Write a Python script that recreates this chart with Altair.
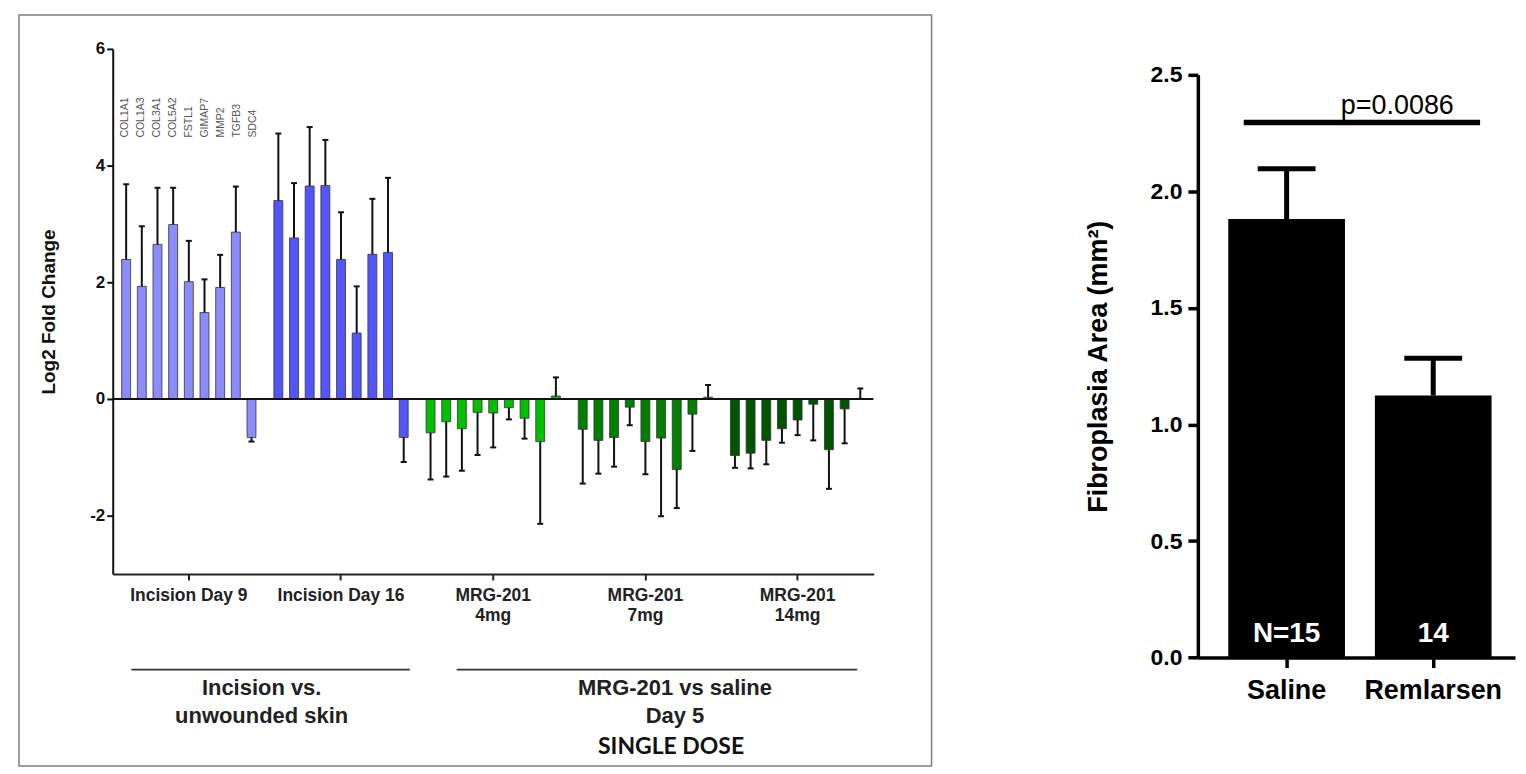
import altair as alt
import pandas as pd
import numpy as np

FONT = "Liberation Sans, Arial, sans-serif"

genes = ["COL1A1", "COL1A3", "COL3A1", "COL5A2", "FSTL1", "GIMAP7", "MMP2", "TGFB3", "SDC4"]
groups = ["Incision Day 9", "Incision Day 16", "MRG-201 4mg", "MRG-201 7mg", "MRG-201 14mg"]
group_colors = ["#8c8cff", "#5555ff", "#00c000", "#007f00", "#005500"]

# log2 fold change means and error magnitudes, per group (gene order above)
day9_mean = [2.39, 1.93, 2.65, 2.99, 2.01, 1.48, 1.91, 2.86, -0.66]
day9_err = [1.29, 1.03, 0.97, 0.63, 0.70, 0.57, 0.56, 0.78, 0.07]
day16_mean = [3.40, 2.76, 3.65, 3.66, 2.39, 1.13, 2.48, 2.51, -0.66]
day16_err = [1.15, 0.94, 1.01, 0.78, 0.81, 0.80, 0.95, 1.28, 0.42]
mrg4_mean = [-0.58, -0.39, -0.51, -0.23, -0.24, -0.15, -0.33, -0.73, 0.05]
mrg4_err = [0.80, 0.94, 0.72, 0.73, 0.59, 0.20, 0.35, 1.41, 0.32]
mrg7_mean = [-0.52, -0.71, -0.66, -0.14, -0.73, -0.67, -1.21, -0.26, 0.03]
mrg7_err = [0.93, 0.57, 0.50, 0.31, 0.56, 1.34, 0.66, 0.63, 0.21]
mrg14_mean = [-0.97, -0.93, -0.71, -0.51, -0.36, -0.09, -0.87, -0.17, 0.01]
mrg14_err = [0.21, 0.26, 0.41, 0.24, 0.26, 0.62, 0.67, 0.59, 0.17]

# right panel
treatments = ["Saline", "Remlarsen"]
area_mean = [1.881, 1.124]
area_sem = [0.216, 0.160]
n_labels = ["N=15", "14"]
p_text = "p=0.0086"
sig_y = 2.296

means = [day9_mean, day16_mean, mrg4_mean, mrg7_mean, mrg14_mean]
errs = [day9_err, day16_err, mrg4_err, mrg7_err, mrg14_err]
rows = []
for g, m, e in zip(groups, means, errs):
    for gene, v, s in zip(genes, m, e):
        rows.append({"group": g, "gene": gene, "value": v,
                     "end": v + s if v >= 0 else v - s})
df_left = pd.DataFrame(rows)

df_right = pd.DataFrame({"treatment": treatments, "mean": area_mean,
                         "hi": np.array(area_mean) + np.array(area_sem),
                         "n": n_labels})

# ---------------- left panel ----------------
LW, LH = 915, 753
x_scale_L = alt.Scale(domain=groups, range=[94, 857], paddingInner=0, paddingOuter=0)
y_scale_L = alt.Scale(domain=[-3, 6], range=[560.5, 34], nice=False, zero=False)
off_scale = alt.Scale(domain=genes, paddingInner=0.43, paddingOuter=0.5715)
lab_scale = alt.Scale(domain=genes, paddingInner=0, paddingOuter=0.76)

x_axis_L = alt.Axis(orient="bottom", offset=-192.5, title=None, labelAngle=0,
                    labelExpr="indexof(datum.value, 'MRG') == 0 ? split(datum.value, ' ') : datum.value",
                    labelFont=FONT, labelFontSize=17.5, labelFontWeight="bold", labelColor="#222",
                    labelBaseline="alphabetic", labelPadding=20.5, labelLineHeight=20,
                    tickSize=6, tickWidth=2, tickColor="#222", domainColor="#222", domainWidth=2,
                    labelOverlap=False, grid=False)
y_axis_L = alt.Axis(orient="left", offset=-94, values=[-2, 0, 2, 4, 6], labelExpr="'' + datum.value",
                    title="Log2 Fold Change", titleX=-64, titleBaseline="middle",
                    titleFont=FONT, titleFontSize=19, titleFontWeight="bold", titleColor="#111",
                    labelFont=FONT, labelFontSize=17, labelFontWeight="bold", labelColor="#111",
                    labelPadding=2, tickSize=6, tickWidth=2, tickColor="#111",
                    domainColor="#111", domainWidth=2, grid=False)


def XL(field, **kw):
    return alt.X(field, scale=x_scale_L, axis=x_axis_L, **kw)


def YL(field):
    return alt.Y(field, scale=y_scale_L, axis=y_axis_L)


def YLd(v):
    return alt.YDatum(v, scale=y_scale_L, axis=y_axis_L)


bars = alt.Chart(df_left).mark_bar(stroke="#333", strokeWidth=0.8).encode(
    x=XL("group:N"),
    xOffset=alt.XOffset("gene:N", scale=off_scale),
    y=YL("value:Q"),
    color=alt.Color("group:N", scale=alt.Scale(domain=groups, range=group_colors), legend=None),
)
err = alt.Chart(df_left).mark_rule(strokeWidth=2, color="#111").encode(
    x=XL("group:N"), xOffset=alt.XOffset("gene:N", scale=off_scale), y=YL("value:Q"), y2="end:Q")
caps = alt.Chart(df_left).mark_tick(orient="horizontal", size=6, thickness=2, color="#111",
                                    opacity=1).encode(
    x=XL("group:N"), xOffset=alt.XOffset("gene:N", scale=off_scale), y=YL("end:Q"))
gene_text = alt.Chart(df_left).transform_filter(alt.datum.group == groups[0]).mark_text(
    angle=270, align="left", baseline="middle", fontSize=10.5, color="#555", font=FONT).encode(
    x=XL("group:N"), xOffset=alt.XOffset("gene:N", scale=lab_scale),
    y=YLd(4.48), text="gene:N")

zero_df = pd.DataFrame({"group": [groups[0]], "end": [groups[-1]]})
zero_line = alt.Chart(zero_df).mark_rule(strokeWidth=2, color="#111", xOffset=-76.3, x2Offset=76).encode(
    x=XL("group:N"), x2="end:N", y=YLd(0))

sep1_df = pd.DataFrame({"group": [groups[0]], "end": [groups[1]], "value": [-4.638]})
sep2_df = pd.DataFrame({"group": [groups[2]], "end": [groups[4]], "value": [-4.638]})
sep1 = alt.Chart(sep1_df).mark_rule(strokeWidth=1.8, color="#333", xOffset=-57.6, x2Offset=69).encode(
    x=XL("group:N"), x2="end:N", y=YL("value:Q"))
sep2 = alt.Chart(sep2_df).mark_rule(strokeWidth=1.8, color="#333", xOffset=-36.6, x2Offset=59.7).encode(
    x=XL("group:N"), x2="end:N", y=YL("value:Q"))

sec1_df = pd.DataFrame({"group": [groups[0]], "value": [-5.08], "t": ["Incision vs.\nunwounded skin"]})
sec2_df = pd.DataFrame({"group": [groups[3]], "value": [-5.08], "t": ["MRG-201 vs saline\nDay 5"]})
sec3_df = pd.DataFrame({"group": [groups[3]], "value": [-6.09], "t": ["SINGLE DOSE"]})
sec1 = alt.Chart(sec1_df).mark_text(font=FONT, fontSize=22, fontWeight="bold", color="#222",
                                    baseline="alphabetic", lineBreak="\n", lineHeight=27.5, dx=-3.3).encode(
    x=XL("group:N", bandPosition=1), y=YL("value:Q"), text="t:N")
sec2 = alt.Chart(sec2_df).mark_text(font=FONT, fontSize=22, fontWeight="bold", color="#222",
                                    baseline="alphabetic", lineBreak="\n", lineHeight=27.5, dx=29.7).encode(
    x=XL("group:N"), y=YL("value:Q"), text="t:N")
sec3 = alt.Chart(sec3_df).mark_text(font="Lato", fontSize=23, fontWeight="bold", color="#111",
                                    baseline="alphabetic", dx=25.7).encode(
    x=XL("group:N"), y=YL("value:Q"), text="t:N")

left = alt.layer(bars, err, caps, gene_text, zero_line, sep1, sep2, sec1, sec2, sec3).resolve_scale(
    xOffset="independent").properties(
    width=LW, height=LH, view=alt.ViewBackground(stroke="#7f7f7f", strokeWidth=1.5))

# ---------------- right panel ----------------
RW, RH = 568, 753
x_scale_R = alt.Scale(domain=treatments, range=[248, 566], paddingInner=0.204,
                      paddingOuter=0.1837, align=0.565)
y_scale_R = alt.Scale(domain=[0, 2.5], range=[644.3, 60], nice=False, zero=False)

x_axis_R = alt.Axis(orient="bottom", offset=-108.7, title=None, labelAngle=0,
                    labelFont=FONT, labelFontSize=27, labelFontWeight="bold", labelColor="#000",
                    labelBaseline="alphabetic", labelPadding=31, tickSize=10, tickWidth=3.5,
                    tickColor="#000", domainColor="#000", domainWidth=3.5, grid=False,
                    labelOverlap=False)
y_axis_R = alt.Axis(orient="left", offset=-248, values=[0, 0.5, 1, 1.5, 2, 2.5], format=".1f",
                    title="Fibroplasia Area (mm\u00b2)", titleX=-100, titleBaseline="middle",
                    titleFont=FONT, titleFontSize=27, titleFontWeight="bold", titleColor="#000",
                    labelFont=FONT, labelFontSize=23, labelFontWeight="bold", labelColor="#000",
                    labelPadding=6, tickSize=10, tickWidth=3.5, tickColor="#000",
                    domainColor="#000", domainWidth=3.5, grid=False)


def XR(field):
    return alt.X(field, scale=x_scale_R, axis=x_axis_R)


def YR(field):
    return alt.Y(field, scale=y_scale_R, axis=y_axis_R)


rbars = alt.Chart(df_right).mark_bar(color="#000").encode(
    x=XR("treatment:N"), y=YR("mean:Q"))
rerr = alt.Chart(df_right).mark_rule(strokeWidth=5, color="#000").encode(
    x=XR("treatment:N"), y=YR("mean:Q"), y2="hi:Q")
rcaps = alt.Chart(df_right).mark_tick(orient="horizontal", size=58, thickness=5, color="#000",
                                      opacity=1).encode(
    x=XR("treatment:N"), y=YR("hi:Q"))
ntext = alt.Chart(df_right).mark_text(font=FONT, fontSize=28, fontWeight="bold", color="#fff",
                                      baseline="alphabetic", dy=-15.6).encode(
    x=XR("treatment:N"), y=alt.YDatum(0, scale=y_scale_R, axis=y_axis_R), text="n:N")
sig_df = pd.DataFrame({"treatment": [treatments[0]], "b": [treatments[1]], "mean": [sig_y],
                       "t": [p_text]})
sig = alt.Chart(sig_df).mark_rule(strokeWidth=5.5, color="#000", xOffset=-43, x2Offset=47).encode(
    x=XR("treatment:N"), x2="b:N", y=YR("mean:Q"))
ptext = alt.Chart(sig_df).mark_text(font=FONT, fontSize=27, color="#000", baseline="alphabetic",
                                    dx=-36, dy=-8.4).encode(
    x=XR("b:N"), y=YR("mean:Q"), text="t:N")

right = alt.layer(rbars, rerr, rcaps, ntext, sig, ptext).properties(
    width=RW, height=RH, view=alt.ViewBackground(stroke="transparent"))

chart = alt.hconcat(left, right, spacing=17).properties(
    padding={"left": 10, "top": 5, "right": 0, "bottom": 0},
    background="white")

chart.save("out.html", embed_options={"renderer": "svg", "actions": False})
